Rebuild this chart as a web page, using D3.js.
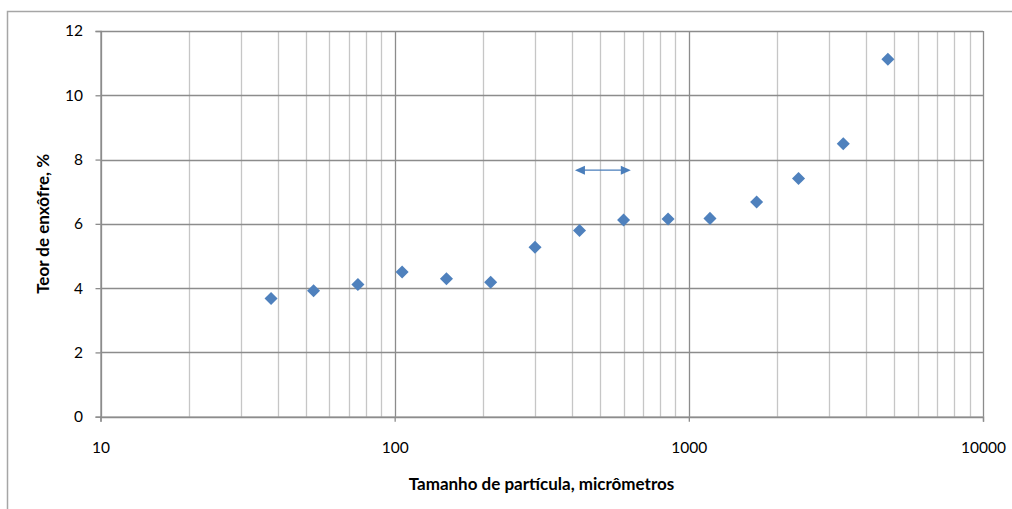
<!DOCTYPE html>
<html><head><meta charset="utf-8">
<script src="https://cdn.jsdelivr.net/npm/d3@7"></script>
<style>body{margin:0;background:#fff}svg{display:block}text{font-family:Lato,"Noto Sans",sans-serif}</style>
</head><body>
<svg id="c" width="1012" height="509"></svg>
<script>
// Data
const particleSize = [38, 53, 75, 106, 150, 212, 300, 425, 600, 850, 1180, 1700, 2360, 3350, 4750];
const sulfurContent = [3.68, 3.92, 4.11, 4.50, 4.29, 4.18, 5.27, 5.79, 6.12, 6.15, 6.17, 6.68, 7.41, 8.49, 11.12];
const arrowRange = [410, 635];
const arrowLevel = 7.67;
const xTicks = [10, 100, 1000, 10000];
const yTicks = [0, 2, 4, 6, 8, 10, 12];
const xTitle = "Tamanho de partícula, micrômetros";
const yTitle = "Teor de enxôfre, %";

const svg = d3.select("#c");
const L = 100.5, R = 983, T = 31, B = 416.7;
const x = d3.scaleLog().domain([10, 10000]).range([L, R]);
const y = d3.scaleLinear().domain([0, 12]).range([B, T]);

// chart area border
svg.append("path").attr("d", "M7.5,509 V11.5 H1012").attr("fill","none").attr("stroke","#a6a6a6").attr("stroke-width",1.5);

// minor vertical gridlines
const minor = [];
for (let d = 10; d < 10000; d *= 10) for (let k = 2; k <= 9; k++) minor.push(d * k);
svg.append("g").selectAll("line").data(minor).join("line")
  .attr("x1", d => Math.round(x(d)) + 0.5).attr("x2", d => Math.round(x(d)) + 0.5)
  .attr("y1", T).attr("y2", B).attr("stroke", "#c6c6c6").attr("stroke-width", 1.3);

// major gridlines
svg.append("g").selectAll("line").data(xTicks).join("line")
  .attr("x1", d => Math.round(x(d)) + 0.5).attr("x2", d => Math.round(x(d)) + 0.5)
  .attr("y1", T).attr("y2", B).attr("stroke", "#8c8c8c").attr("stroke-width", 1.3);
svg.append("g").selectAll("line").data(yTicks).join("line")
  .attr("x1", L).attr("x2", R).attr("y1", d => Math.round(y(d)) + 0.5).attr("y2", d => Math.round(y(d)) + 0.5)
  .attr("stroke", "#8c8c8c").attr("stroke-width", 1.3);

// axes
const yAxis = d3.axisLeft(y).tickValues(yTicks).tickSize(5).tickPadding(12.5).tickFormat(d3.format("d"));
const gy = svg.append("g").attr("transform", `translate(${L},0)`).call(yAxis);
gy.selectAll("path,line").attr("stroke", "#8c8c8c").attr("stroke-width", 1.3);
gy.selectAll("text").attr("font-size", 15.5).attr("fill", "#000");

const xAxis = d3.axisBottom(x).tickValues(xTicks).tickSize(5).tickPadding(20).tickFormat(d3.format("d"));
const gx = svg.append("g").attr("transform", `translate(0,${B})`).call(xAxis);
gx.selectAll("path,line").attr("stroke", "#8c8c8c").attr("stroke-width", 1.3);
gx.selectAll("text").attr("font-size", 15.5).attr("fill", "#000");

// arrow
const ay = y(arrowLevel);
const ax0 = x(arrowRange[0]), ax1 = x(arrowRange[1]);
svg.append("line").attr("x1", ax0 + 8).attr("x2", ax1 - 8).attr("y1", ay).attr("y2", ay)
  .attr("stroke", "#4a7ebb").attr("stroke-width", 1.3);
svg.append("path").attr("d", `M${ax0},${ay} L${ax0 + 10},${ay - 4.5} L${ax0 + 10},${ay + 4.5} Z`).attr("fill", "#4a7ebb");
svg.append("path").attr("d", `M${ax1},${ay} L${ax1 - 10},${ay - 4.5} L${ax1 - 10},${ay + 4.5} Z`).attr("fill", "#4a7ebb");

// points
const sym = d3.symbol().type(d3.symbolSquare).size(85);
svg.append("g").selectAll("path").data(particleSize).join("path")
  .attr("d", sym)
  .attr("transform", (d, i) => `translate(${x(d)},${y(sulfurContent[i])}) rotate(45)`)
  .attr("fill", "#4f81bd");

// titles
svg.append("text").attr("x", 541.5).attr("y", 490).attr("text-anchor", "middle")
  .attr("font-size", 17).attr("font-weight", "bold").text(xTitle);
svg.append("text").attr("transform", `translate(49,${(T + B) / 2}) rotate(-90)`).attr("text-anchor", "middle")
  .attr("font-size", 17).attr("font-weight", "bold").text(yTitle);
</script>
</body></html>
